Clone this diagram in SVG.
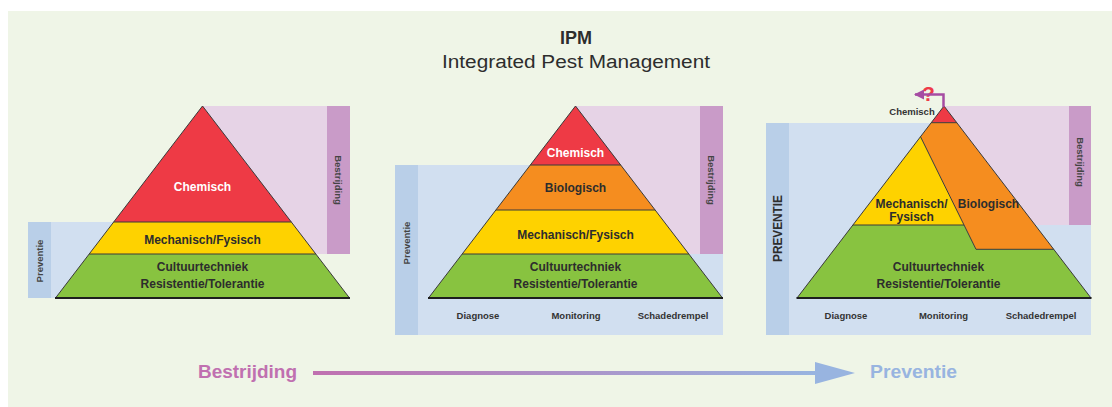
<svg xmlns="http://www.w3.org/2000/svg" width="1112" height="407" viewBox="0 0 1112 407">
<style>
text{font-family:"Liberation Sans",Arial,sans-serif;}
.lbl{font-size:12px;font-weight:bold;fill:#2d2d2d;text-anchor:middle;}
.wlbl{font-size:12px;font-weight:bold;fill:#ffffff;text-anchor:middle;}
.sm{font-size:9.5px;font-weight:bold;fill:#333;text-anchor:middle;}
.vt{font-size:9.5px;font-weight:bold;fill:#444;text-anchor:middle;}
.pink{fill:#e6d3e6;}
.pinkbar{fill:#c99bc8;}
.blue{fill:#d1dff0;}
.bluebar{fill:#b9cfe8;}
.red{fill:#ee3a45;}
.orange{fill:#f58d1f;}
.yellow{fill:#fed200;}
.green{fill:#88c340;}
.edge{fill:none;stroke:#3a3a3a;stroke-width:1;}
.base{stroke:#1e1e1e;stroke-width:2;}
</style>
<defs>
<linearGradient id="grad" x1="0" y1="0" x2="1" y2="0">
<stop offset="0" stop-color="#c070b0"/>
<stop offset="1" stop-color="#98b4e0"/>
</linearGradient>
<marker id="pa" viewBox="0 0 10 10" refX="9" refY="5" markerWidth="4" markerHeight="4" orient="auto-start-reverse">
<path d="M0,0 L10,5 L0,10 z" fill="#a64ca3"/>
</marker>
</defs>
<rect x="0" y="0" width="1112" height="407" fill="#ffffff"/>
<rect x="8" y="11" width="1104" height="396" fill="#eff5e7"/>

<g id="title">
<text x="576" y="44" font-size="18" font-weight="bold" fill="#2d2d2d" text-anchor="middle">IPM</text>
<text x="576" y="68" font-size="18" fill="#2d2d2d" text-anchor="middle" textLength="268" lengthAdjust="spacingAndGlyphs">Integrated Pest Management</text>
</g>

<g id="pyramid1">
<rect class="blue" x="28" y="222" width="174" height="76"/>
<rect class="bluebar" x="28" y="222" width="23" height="76"/>
<rect class="pink" x="202.5" y="106" width="147.5" height="148"/>
<rect class="pinkbar" x="327" y="106" width="23" height="148"/>
<polygon class="red" points="202.5,106 291.3,222 113.7,222"/>
<polygon class="yellow" points="113.7,222 291.3,222 315.8,254 89.2,254"/>
<polygon class="green" points="89.2,254 315.8,254 349.5,298 55.5,298"/>
<polygon class="edge" points="202.5,106 349.5,298 55.5,298"/>
<line class="edge" x1="113.7" y1="222" x2="291.3" y2="222"/>
<line class="edge" x1="89.2" y1="254" x2="315.8" y2="254"/>
<line class="base" x1="55" y1="298" x2="350" y2="298"/>
<text class="wlbl" x="202.5" y="191">Chemisch</text>
<text class="lbl" x="202.5" y="243.5">Mechanisch/Fysisch</text>
<text class="lbl" x="202.5" y="271">Cultuurtechniek</text>
<text class="lbl" x="202.5" y="287.5">Resistentie/Tolerantie</text>
<text class="vt" transform="translate(338.5,180) rotate(90)" dy="3.4">Bestrijding</text>
<text class="vt" transform="translate(39.5,261) rotate(-90)" dy="3.4">Preventie</text>
</g>

<g id="pyramid2">
<rect class="blue" x="395" y="165" width="328" height="170"/>
<rect class="bluebar" x="395" y="165" width="23" height="170"/>
<rect class="pink" x="575.5" y="106" width="147.5" height="148"/>
<rect class="pinkbar" x="700" y="106" width="23" height="148"/>
<polygon class="red" points="575.5,106 620.7,165 530.3,165"/>
<polygon class="orange" points="530.3,165 620.7,165 655.1,210 495.9,210"/>
<polygon class="yellow" points="495.9,210 655.1,210 688.8,254 462.2,254"/>
<polygon class="green" points="462.2,254 688.8,254 722.5,298 428.5,298"/>
<polygon class="edge" points="575.5,106 722.5,298 428.5,298"/>
<line class="edge" x1="530.3" y1="165" x2="620.7" y2="165"/>
<line class="edge" x1="495.9" y1="210" x2="655.1" y2="210"/>
<line class="edge" x1="462.2" y1="254" x2="688.8" y2="254"/>
<line class="base" x1="428" y1="298" x2="723" y2="298"/>
<text class="wlbl" x="575.5" y="156.5">Chemisch</text>
<text class="lbl" x="575.5" y="191.5">Biologisch</text>
<text class="lbl" x="575.5" y="238.5">Mechanisch/Fysisch</text>
<text class="lbl" x="575.5" y="271">Cultuurtechniek</text>
<text class="lbl" x="575.5" y="287.5">Resistentie/Tolerantie</text>
<text class="sm" x="478" y="319">Diagnose</text>
<text class="sm" x="576" y="319">Monitoring</text>
<text class="sm" x="673" y="319">Schadedrempel</text>
<text class="vt" transform="translate(711.5,180) rotate(90)" dy="3.4">Bestrijding</text>
<text class="vt" transform="translate(406.5,243) rotate(-90)" dy="3.4">Preventie</text>
</g>

<g id="pyramid3">
<rect class="blue" x="766" y="123" width="325" height="212"/>
<rect class="bluebar" x="766" y="123" width="23" height="212"/>
<rect class="pink" x="944" y="106" width="147" height="119"/>
<rect class="pinkbar" x="1069" y="106" width="22" height="119"/>
<polygon class="red" points="944,106 956.8,122.7 931.2,122.7"/>
<polygon class="orange" points="931.2,122.7 956.8,122.7 1053.7,249.3 976,249.3 920.5,136.7"/>
<polygon class="yellow" points="920.5,136.7 964,225 852.9,225"/>
<polygon class="green" points="852.9,225 964,225 976,249.3 1053.7,249.3 1091,298 797,298"/>
<polygon class="edge" points="944,106 1091,298 797,298"/>
<line class="edge" x1="931.2" y1="122.7" x2="956.8" y2="122.7"/>
<polyline class="edge" points="852.9,225 964,225"/>
<polyline class="edge" points="920.5,136.7 976,249.3 1053.7,249.3"/>
<line class="base" x1="796.5" y1="298" x2="1091.5" y2="298"/>
<text class="sm" x="912" y="114.5">Chemisch</text>
<text class="lbl" x="911.5" y="207.5">Mechanisch/</text>
<text class="lbl" x="911.5" y="220.5">Fysisch</text>
<text class="lbl" x="988.5" y="207.5">Biologisch</text>
<text class="lbl" x="938.5" y="271">Cultuurtechniek</text>
<text class="lbl" x="938.5" y="287.5">Resistentie/Tolerantie</text>
<text class="sm" x="846" y="319">Diagnose</text>
<text class="sm" x="943.5" y="319">Monitoring</text>
<text class="sm" x="1041" y="319">Schadedrempel</text>
<text class="vt" transform="translate(1080,162) rotate(90)" dy="3.4">Bestrijding</text>
<text transform="translate(778,228.5) rotate(-90)" dy="4.3" font-size="12" font-weight="bold" fill="#2d2d2d" text-anchor="middle" textLength="67" lengthAdjust="spacingAndGlyphs">PREVENTIE</text>
<text x="928.5" y="101" font-size="21" font-weight="bold" fill="#ee3a48" text-anchor="middle">?</text>
</g>

<g id="connectors">
<polyline points="943.5,107 943.5,94.5 915,94.5" fill="none" stroke="#a64ca3" stroke-width="2.5" marker-end="url(#pa)"/>
<rect x="313" y="371" width="503" height="4" fill="url(#grad)"/>
<polygon points="815,362 855,373 815,384" fill="#98b4e0"/>
</g>

<g id="axis-labels">
<text x="198" y="378" font-size="19" font-weight="bold" fill="#c070b0" textLength="99" lengthAdjust="spacingAndGlyphs">Bestrijding</text>
<text x="870" y="378" font-size="19" font-weight="bold" fill="#98b4e0" textLength="87" lengthAdjust="spacingAndGlyphs">Preventie</text>
</g>
</svg>
